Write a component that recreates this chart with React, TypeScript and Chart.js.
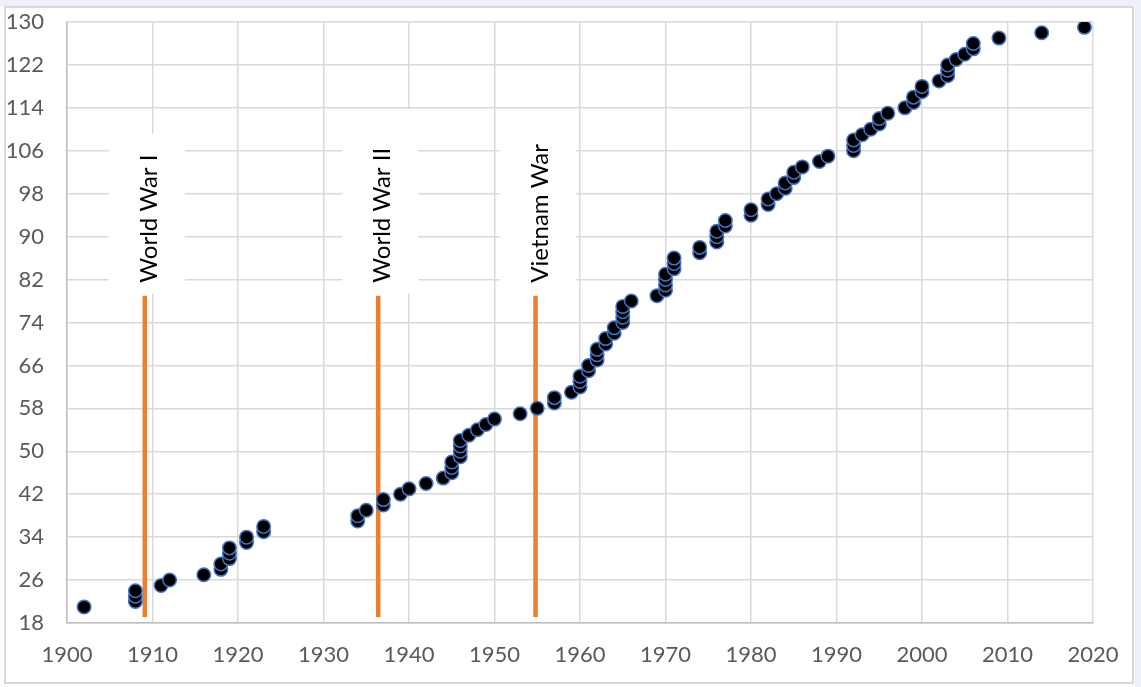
import React, { useEffect, useRef } from "react";
import { Chart, registerables } from "chart.js";

Chart.register(...registerables);

// ---- Data ----
const pointYears = [
  1902, 1908, 1908, 1908, 1911, 1912, 1916, 1918, 1918, 1919, 1919, 1919, 1921, 1921, 1923, 1923,
  1934, 1934, 1935, 1937, 1937, 1939, 1940, 1942, 1944, 1945, 1945, 1945, 1946, 1946, 1946, 1946,
  1947, 1948, 1949, 1950, 1953, 1955, 1957, 1957, 1959, 1960, 1960, 1960, 1961, 1961, 1962, 1962,
  1962, 1963, 1963, 1964, 1964, 1965, 1965, 1965, 1965, 1966, 1969, 1970, 1970, 1970, 1970, 1971,
  1971, 1971, 1974, 1974, 1976, 1976, 1976, 1977, 1977, 1980, 1980, 1982, 1982, 1983, 1984, 1984,
  1985, 1985, 1986, 1988, 1989, 1992, 1992, 1992, 1993, 1994, 1995, 1995, 1996, 1998, 1999, 1999,
  2000, 2000, 2002, 2003, 2003, 2003, 2004, 2005, 2006, 2006, 2009, 2014, 2019,
];
const pointValues = [
  21, 22, 23, 24, 25, 26, 27, 28, 29, 30, 31, 32, 33, 34, 35, 36,
  37, 38, 39, 40, 41, 42, 43, 44, 45, 46, 47, 48, 49, 50, 51, 52,
  53, 54, 55, 56, 57, 58, 59, 60, 61, 62, 63, 64, 65, 66, 67, 68,
  69, 70, 71, 72, 73, 74, 75, 76, 77, 78, 79, 80, 81, 82, 83, 84,
  85, 86, 87, 88, 89, 90, 91, 92, 93, 94, 95, 96, 97, 98, 99, 100,
  101, 102, 103, 104, 105, 106, 107, 108, 109, 110, 111, 112, 113, 114, 115, 116,
  117, 118, 119, 120, 121, 122, 123, 124, 125, 126, 127, 128, 129,
];

const warNames = ["World War I", "World War II", "Vietnam War"];
const warLineYears = [1909.1, 1936.4, 1954.8];
const warLineFrom = 19.1;
const warLineTo = 79;
const warBoxTop = [109.2, 113.8, 112];

const xMin = 1900;
const xMax = 2020;
const xStep = 10;
const yMin = 18;
const yMax = 130;
const yStep = 8;

const bgPlugin = {
  id: "bgFrame",
  beforeDraw(chart: any) {
    const { ctx, width, height } = chart;
    ctx.save();
    ctx.fillStyle = "#ffffff";
    ctx.fillRect(0, 0, width, height);
    ctx.fillStyle = "#eef0f9";
    ctx.fillRect(0, 0, width, 6);
    ctx.fillRect(1135, 0, width - 1135, height);
    ctx.strokeStyle = "#d9d9d9";
    ctx.lineWidth = 2;
    ctx.strokeRect(5, 7, 1128, 676);
    ctx.restore();
  },
};

const warLabelPlugin = {
  id: "warLabels",
  beforeDatasetsDraw(chart: any) {
    const { ctx } = chart;
    const xs = chart.scales.x;
    const ys = chart.scales.y;
    ctx.save();
    warLineYears.forEach((yr, i) => {
      const lx = xs.getPixelForValue(yr);
      const lineTopPx = ys.getPixelForValue(warLineTo);
      const top = ys.getPixelForValue(warBoxTop[i]);
      ctx.fillStyle = "#ffffff";
      ctx.fillRect(lx - 36, top, 76, lineTopPx - 2 - top);
      ctx.save();
      ctx.translate(lx + 12, lineTopPx - 13);
      ctx.rotate(-Math.PI / 2);
      ctx.font = "24px Lato";
      ctx.fillStyle = "#000000";
      ctx.textAlign = "left";
      ctx.textBaseline = "alphabetic";
      ctx.fillText(warNames[i], 0, 0);
      ctx.restore();
    });
    ctx.restore();
  },
};

export default function App() {
  const canvasRef = useRef<HTMLCanvasElement | null>(null);

  useEffect(() => {
    if (!canvasRef.current) return;
    const tickFont = { family: "Lato", size: 22 };
    const chart = new Chart(canvasRef.current, {
      type: "scatter",
      data: {
        datasets: [
          {
            data: pointYears.map((x, i) => ({ x, y: pointValues[i] })),
            backgroundColor: "#000000",
            borderColor: "#4472C4",
            borderWidth: 1.5,
            pointRadius: 6.75,
            pointHoverRadius: 6.75,
          },
          ...warLineYears.map((yr) => ({
            data: [
              { x: yr, y: warLineFrom },
              { x: yr, y: warLineTo },
            ],
            showLine: true,
            borderColor: "#ED7D31",
            backgroundColor: "#ED7D31",
            borderWidth: 4.5,
            pointRadius: 0,
            borderCapStyle: "butt",
            fill: false,
          })),
        ] as any,
      },
      options: {
        animation: false,
        responsive: false,
        events: [],
        layout: { padding: { left: 0, top: 22, right: 48, bottom: 0 } },
        plugins: {
          legend: { display: false },
          tooltip: { enabled: false },
        },
        scales: {
          x: {
            type: "linear",
            min: xMin,
            max: xMax,
            ticks: {
              stepSize: xStep,
              padding: 19,
              color: "#595959",
              font: tickFont,
              maxRotation: 0,
              autoSkip: false,
              callback: (v: any) => String(v),
            },
            grid: { color: "#d9d9d9", lineWidth: 1.5, drawTicks: false },
            border: { color: "#bfbfbf", width: 1.5 },
            afterFit: (s: any) => {
              s.height = 64;
              s.paddingLeft = 0;
              s.paddingRight = 0;
              s.paddingTop = 0;
              s.paddingBottom = 0;
            },
          },
          y: {
            type: "linear",
            min: yMin,
            max: yMax,
            ticks: {
              stepSize: yStep,
              padding: 23,
              color: "#595959",
              font: tickFont,
              autoSkip: false,
              callback: (v: any) => String(v),
            },
            grid: { color: "#d9d9d9", lineWidth: 1.5, drawTicks: false },
            border: { color: "#bfbfbf", width: 1.5 },
            afterFit: (s: any) => {
              s.width = 67;
              s.paddingLeft = 0;
              s.paddingRight = 0;
              s.paddingTop = 0;
              s.paddingBottom = 0;
            },
          },
        },
      } as any,
      plugins: [bgPlugin, warLabelPlugin],
    });
    return () => chart.destroy();
  }, []);

  return (
    <div style={{ position: "fixed", left: 0, top: 0, width: 1141, height: 687 }}>
      <canvas ref={canvasRef} width={1141} height={687} style={{ display: "block", width: 1141, height: 687 }} />
    </div>
  );
}
